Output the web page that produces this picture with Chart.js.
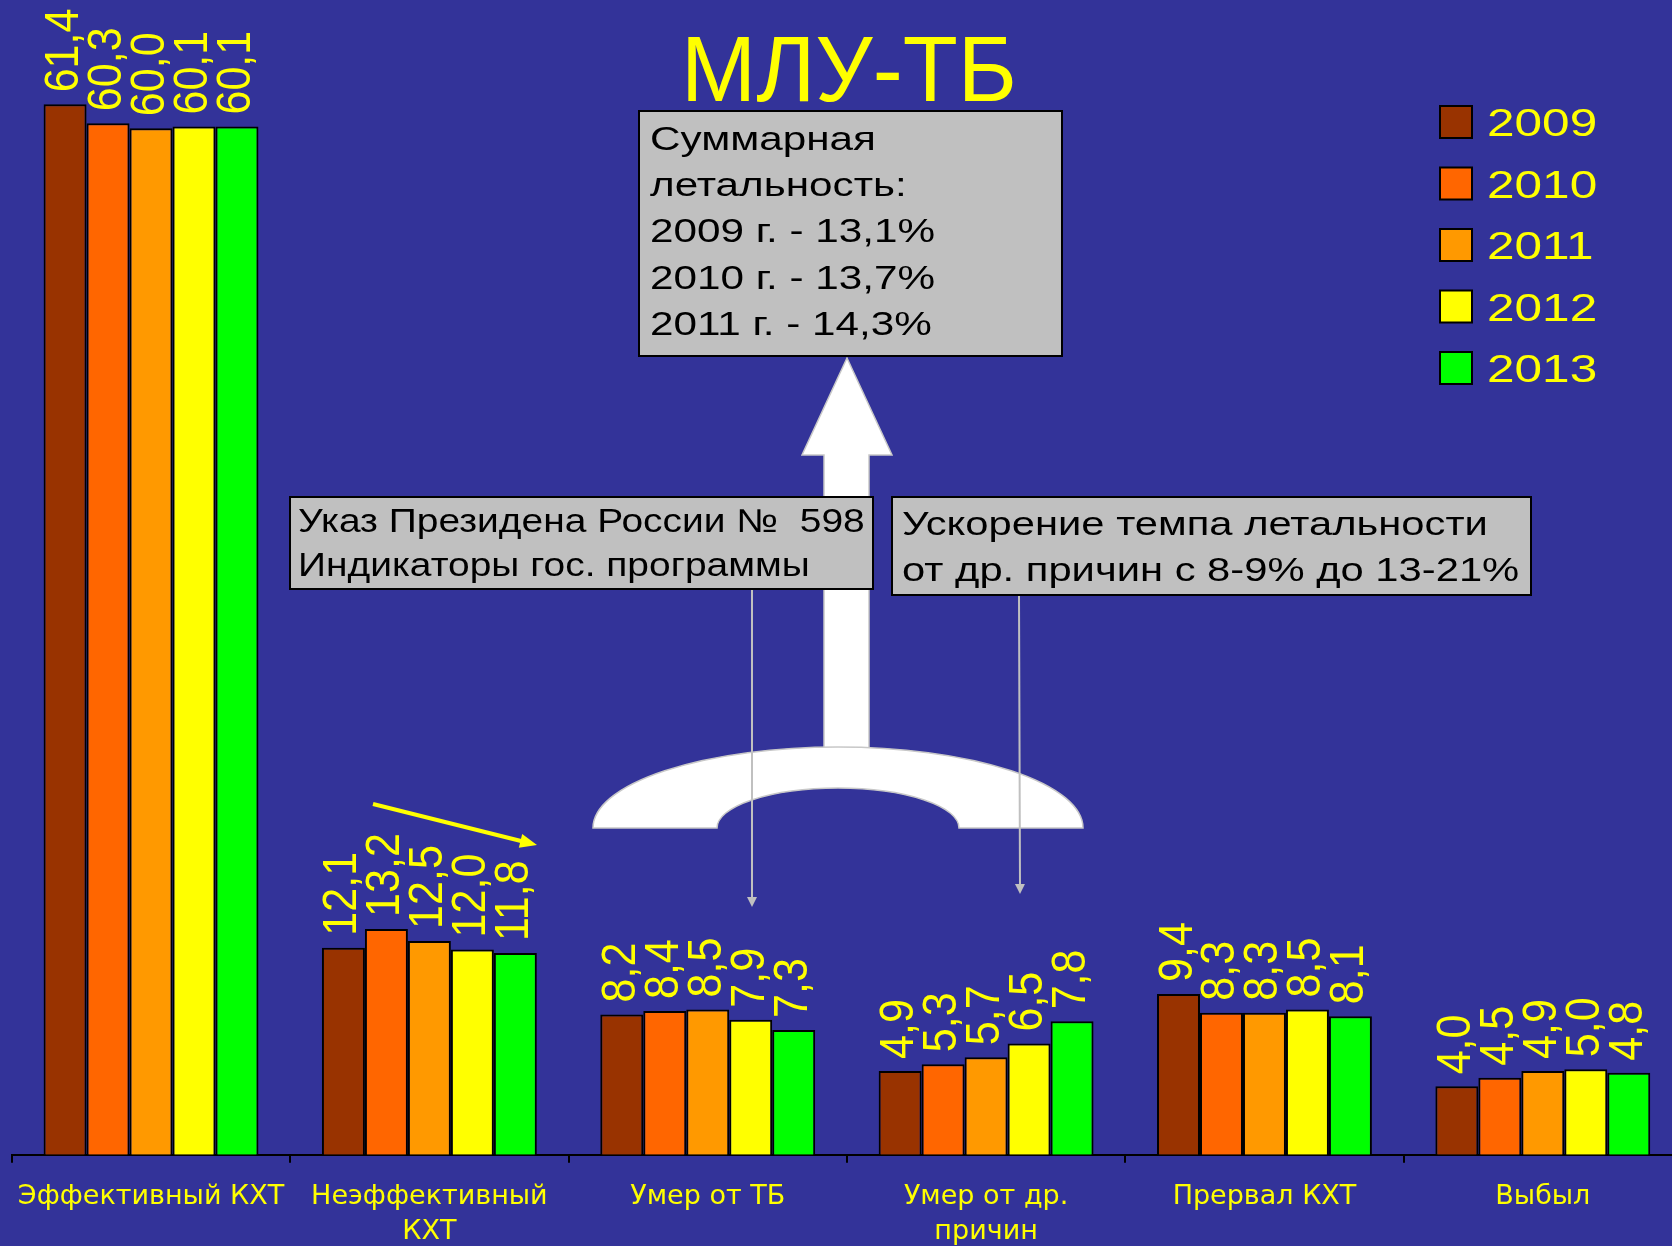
<!DOCTYPE html>
<html lang="ru">
<head>
<meta charset="utf-8">
<title>Исходы лечения МЛУ-ТБ</title>
<script src="https://cdn.jsdelivr.net/npm/chart.js@4.4.0/dist/chart.umd.min.js"></script>
<style>
  html, body { margin: 0; padding: 0; background: #333399; overflow: hidden; }
  #wrap { width: 1682px; height: 1267px; }
</style>
</head>
<body>
<div id="wrap"><canvas id="chart" width="1682" height="1267"></canvas></div>
<script>
// Categories (outcomes) and values by year, % of cohort
const categories = ['Эффективный КХТ', ['Неэффективный', 'КХТ'], 'Умер от ТБ', ['Умер от др.', 'причин'], 'Прервал КХТ', 'Выбыл'];
const years = ['2009', '2010', '2011', '2012', '2013'];
const yearColors = ['#993300', '#FF6600', '#FF9900', '#FFFF00', '#00FF00'];

const values2009 = [61.4, 12.1, 8.2, 4.9, 9.4, 4.0];
const values2010 = [60.3, 13.2, 8.4, 5.3, 8.3, 4.5];
const values2011 = [60.0, 12.5, 8.5, 5.7, 8.3, 4.9];
const values2012 = [60.1, 12.0, 7.9, 6.5, 8.5, 5.0];
const values2013 = [60.1, 11.8, 7.3, 7.8, 8.1, 4.8];

const titleText = 'МЛУ-ТБ';
const totalLethality = ['Суммарная', 'летальность:', '2009 г. - 13,1%', '2010 г. - 13,7%', '2011 г. - 14,3%'];
const decreeNote = ['Указ Президена России №  598', 'Индикаторы гос. программы'];
const otherCausesNote = ['Ускорение темпа летальности', 'от др. причин с 8-9% до 13-21%'];

const FONT = '"Liberation Sans", Arial, sans-serif';
const YELLOW = '#FFFF00';

// Draw text stretched horizontally (the slide text is wider than plain Arial)
function drawText(ctx, txt, x, y, sx) {
  ctx.save();
  ctx.translate(x, y);
  ctx.scale(sx, 1);
  ctx.fillText(txt, 0, 0);
  ctx.restore();
}

function arrowHead(ctx, x1, y1, x2, y2, len, half) {
  const a = Math.atan2(y2 - y1, x2 - x1);
  ctx.beginPath();
  ctx.moveTo(x2, y2);
  ctx.lineTo(x2 - len * Math.cos(a) + half * Math.sin(a), y2 - len * Math.sin(a) - half * Math.cos(a));
  ctx.lineTo(x2 - len * Math.cos(a) - half * Math.sin(a), y2 - len * Math.sin(a) + half * Math.cos(a));
  ctx.closePath();
  ctx.fill();
}

function noteBox(ctx, x1, y1, x2, y2, lines, tx, baselines, sx) {
  ctx.fillStyle = '#C0C0C0';
  ctx.fillRect(x1, y1, x2 - x1, y2 - y1);
  ctx.strokeStyle = '#000';
  ctx.lineWidth = 2;
  ctx.strokeRect(x1, y1, x2 - x1, y2 - y1);
  ctx.fillStyle = '#000';
  ctx.font = '33px ' + FONT;
  ctx.textAlign = 'left';
  ctx.textBaseline = 'alphabetic';
  lines.forEach((l, i) => drawText(ctx, l, tx, baselines[i], sx));
}

// Slide background
const background = {
  id: 'background',
  beforeDraw(chart) {
    const ctx = chart.ctx;
    ctx.save();
    ctx.fillStyle = '#333399';
    ctx.fillRect(0, 0, chart.width, chart.height);
    ctx.restore();
  }
};

// Rotated value labels above each bar
const valueLabels = {
  id: 'valueLabels',
  afterDatasetsDraw(chart) {
    const ctx = chart.ctx;
    ctx.save();
    ctx.fillStyle = YELLOW;
    ctx.font = '49px ' + FONT;
    ctx.textAlign = 'left';
    ctx.textBaseline = 'alphabetic';
    chart.data.datasets.forEach((ds, i) => {
      chart.getDatasetMeta(i).data.forEach((bar, j) => {
        const txt = ds.data[j].toFixed(1).replace('.', ',');
        ctx.save();
        ctx.translate(bar.x + 13, bar.y - 12);
        ctx.rotate(-Math.PI / 2);
        ctx.scale(0.88, 1);
        ctx.fillText(txt, 0, 0);
        ctx.restore();
      });
    });
    ctx.restore();
  }
};

// Legend on the right: squares + years
const sideLegend = {
  id: 'sideLegend',
  afterDraw(chart) {
    const ctx = chart.ctx;
    ctx.save();
    ctx.font = '39px ' + FONT;
    ctx.textBaseline = 'alphabetic';
    chart.data.datasets.forEach((ds, i) => {
      const cy = 122 + i * 61.5;
      ctx.fillStyle = ds.backgroundColor;
      ctx.fillRect(1440, cy - 16, 32, 32);
      ctx.strokeStyle = '#000';
      ctx.lineWidth = 2;
      ctx.strokeRect(1440, cy - 16, 32, 32);
      ctx.fillStyle = YELLOW;
      drawText(ctx, ds.label, 1487, cy + 14, 1.27);
    });
    ctx.restore();
  }
};

// Title, big arrow, arch and note boxes
const annotations = {
  id: 'annotations',
  afterDraw(chart) {
    const ctx = chart.ctx;
    ctx.save();

    ctx.fillStyle = YELLOW;
    ctx.font = '93px ' + FONT;
    ctx.textAlign = 'center';
    ctx.textBaseline = 'alphabetic';
    drawText(ctx, titleText, 849, 101, 0.97);

    // white up arrow
    ctx.fillStyle = '#FFFFFF';
    ctx.strokeStyle = '#C8C8C8';
    ctx.lineWidth = 1.5;
    ctx.beginPath();
    ctx.moveTo(847, 358);
    ctx.lineTo(892, 455);
    ctx.lineTo(869, 455);
    ctx.lineTo(869, 748);
    ctx.lineTo(824, 748);
    ctx.lineTo(824, 455);
    ctx.lineTo(802, 455);
    ctx.closePath();
    ctx.fill();
    ctx.stroke();

    // arch
    ctx.beginPath();
    ctx.moveTo(593, 828);
    ctx.ellipse(838, 828, 245, 81, 0, Math.PI, 2 * Math.PI);
    ctx.lineTo(959, 828);
    ctx.ellipse(838, 828, 121, 40, 0, 0, Math.PI, true);
    ctx.closePath();
    ctx.fill();
    ctx.stroke();

    noteBox(ctx, 639, 111, 1062, 356, totalLethality, 650, [150, 196, 242, 289, 335], 1.28);
    noteBox(ctx, 290, 497, 873, 589, decreeNote, 298, [532, 576], 1.18);
    noteBox(ctx, 892, 497, 1531, 595, otherCausesNote, 902, [535, 581], 1.265);

    // thin grey pointers
    ctx.strokeStyle = '#C0C0C0';
    ctx.fillStyle = '#C0C0C0';
    ctx.lineWidth = 2;
    ctx.beginPath();
    ctx.moveTo(752, 590); ctx.lineTo(752, 900);
    ctx.moveTo(1019, 596); ctx.lineTo(1020, 888);
    ctx.stroke();
    arrowHead(ctx, 752, 590, 752, 907, 10, 5);
    arrowHead(ctx, 1019, 596, 1020, 894, 10, 5);

    // yellow trend arrow
    ctx.strokeStyle = YELLOW;
    ctx.fillStyle = YELLOW;
    ctx.lineWidth = 4;
    ctx.beginPath();
    ctx.moveTo(373, 804);
    ctx.lineTo(525, 842);
    ctx.stroke();
    arrowHead(ctx, 373, 804, 537, 845, 17, 7);

    ctx.restore();
  }
};

const yearSeries = [values2009, values2010, values2011, values2012, values2013];

new Chart(document.getElementById('chart'), {
  type: 'bar',
  data: {
    labels: categories,
    datasets: years.map((y, i) => ({
      label: y,
      data: yearSeries[i],
      backgroundColor: yearColors[i],
      borderColor: '#000000',
      borderWidth: 2,
      categoryPercentage: 0.772,
      barPercentage: 1.0
    }))
  },
  options: {
    responsive: false,
    animation: false,
    devicePixelRatio: 1,
    layout: { padding: { left: 10, right: 0, top: 0, bottom: 0 } },
    plugins: {
      legend: { display: false },
      tooltip: { enabled: false }
    },
    scales: {
      y: { display: false, min: 0, max: 67.5 },
      x: {
        border: { display: true, color: '#000000', width: 2 },
        grid: { display: true, drawOnChartArea: false, drawTicks: true, tickLength: 8, color: '#000000', lineWidth: 2 },
        ticks: {
          color: YELLOW,
          font: { family: '"DejaVu Sans", sans-serif', size: 27, lineHeight: 1.3 },
          padding: 17,
          maxRotation: 0,
          autoSkip: false
        }
      }
    }
  },
  plugins: [background, valueLabels, sideLegend, annotations]
});
</script>
</body>
</html>
